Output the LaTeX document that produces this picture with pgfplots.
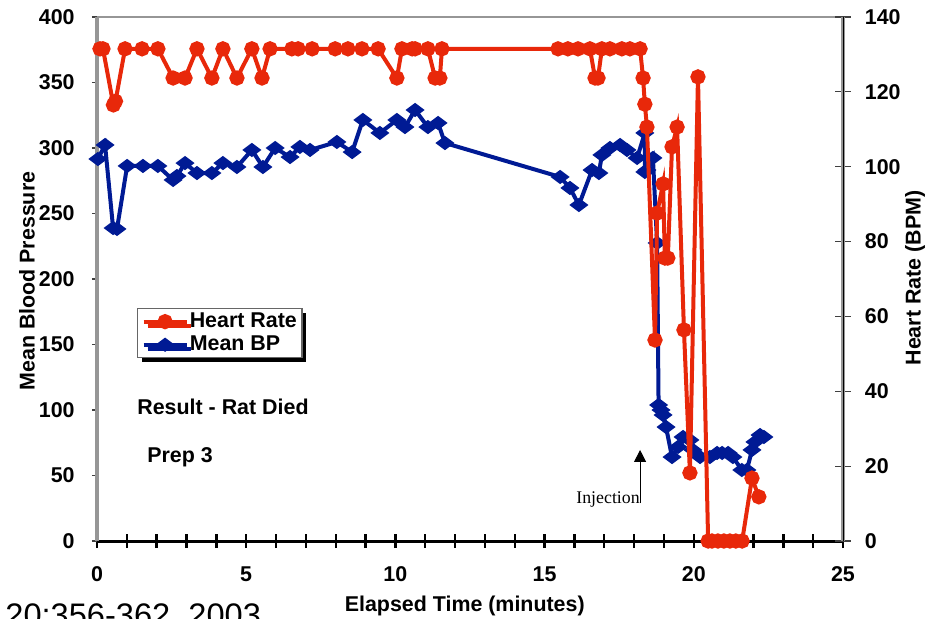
\documentclass[border=0pt]{standalone}
\usepackage{pgfplots}
\pgfplotsset{compat=1.18}
\usepackage{fontspec}
\setmainfont{Liberation Sans}
\newfontfamily\timesfont{Liberation Serif}
\usetikzlibrary{shadows,arrows.meta}

\definecolor{hrred}{RGB}{232,40,10}
\definecolor{bpblue}{RGB}{0,26,148}
\definecolor{framegray}{RGB}{150,150,150}

\pgfplotsset{
  base/.style={
    width=373pt, height=262pt, scale only axis,
    xmin=0, xmax=25, clip=false,
    /pgf/number format/assume math mode=true,
    tick label style={font=\fontsize{10.7}{12}\selectfont\bfseries},
    label style={font=\fontsize{10.7}{12}\selectfont\bfseries},
  },
}

\begin{document}
\begin{tikzpicture}
% x axis only
\begin{axis}[base, ymin=0, ymax=400,
  axis x line*=bottom, axis y line=none,
  xtick={0,5,...,25}, minor x tick num=4,
  tick align=center, major tick length=7pt, minor tick length=7pt,
  x axis line style={black, line width=1.5pt},
  every tick/.style={black, line width=1.2pt},
  xticklabel style={inner sep=0pt, anchor=north, yshift=-9pt},
  xlabel={Elapsed Time (minutes)},
  xlabel style={at={(axis description cs:0.493,-0.124)}, anchor=center},
]
\end{axis}

% left axis: mean BP
\begin{axis}[base, ymin=0, ymax=400,
  axis x line=none, axis y line*=left,
  ytick={0,50,...,400},
  tick align=outside, major tick length=2.5pt,
  y axis line style={framegray, line width=2pt},
  every tick/.style={black!75, line width=0.6pt},
  yticklabel style={inner sep=0pt, anchor=east, xshift=-8.5pt},
  ylabel={Mean Blood Pressure},
  ylabel style={at={(axis description cs:-0.094,0.496)}, anchor=center},
]
\draw[framegray, line width=1.3pt] (rel axis cs:0,1) -- (rel axis cs:1,1);
\addplot[bpblue, line width=2pt, mark=diamond*, mark size=3.1pt,
  mark options={solid, rotate=90}] coordinates {
(0.03,291.6)(0.27,302.3)(0.54,238.9)(0.67,238.2)(1.01,286.3)(1.54,286.3)
(2.04,286.3)(2.55,275.6)(2.68,278.6)(2.95,288.5)(3.35,280.9)(3.85,280.9)
(4.22,288.5)(4.69,285.5)(5.19,298.5)(5.56,285.5)(5.97,300.0)(6.47,293.1)
(6.80,300.8)(7.14,298.5)(8.04,304.6)(8.55,296.9)(8.91,321.4)(9.48,311.5)
(10.05,321.4)(10.32,316.0)(10.66,329.0)(11.09,316.0)(11.43,319.1)(11.66,303.8)
(15.52,277.9)(15.85,269.5)(16.15,256.5)(16.59,283.2)(16.82,280.9)(16.92,294.7)
(17.19,300.0)(17.53,302.3)(17.76,298.5)(18.10,292.4)(18.36,311.5)(18.36,281.7)
(18.43,283.2)(18.63,292.4)(18.77,227.5)(18.82,103.8)(18.90,100.0)(18.97,96.2)
(19.07,87.0)(19.27,64.1)(19.47,71.8)(19.64,79.4)(19.87,77.1)(19.97,69.5)
(20.21,64.1)(20.54,64.1)(20.78,67.2)(20.95,67.2)(21.15,67.2)(21.31,64.1)
(21.61,54.2)(21.78,54.2)(21.95,69.5)(22.05,75.6)(22.22,80.9)(22.35,79.4)
};
\node[anchor=west, inner sep=0pt, font=\fontsize{10.7}{12}\selectfont\bfseries]
  at (rel axis cs:0.0536,0.2557) {Result - Rat Died};
\node[anchor=west, inner sep=0pt, font=\fontsize{10.7}{12}\selectfont\bfseries]
  at (rel axis cs:0.067,0.160) {Prep 3};
\draw[line width=0.5pt, -{Triangle[length=6pt,width=6pt]}]
  (axis cs:18.2,29) -- (axis cs:18.2,69.5);
\node[anchor=base east, inner sep=0pt, font=\timesfont\fontsize{8.9}{10}\selectfont]
  at (axis cs:18.2,29) {Injection};
\end{axis}

% right axis: heart rate
\begin{axis}[base, ymin=0, ymax=140,
  axis x line=none, axis y line*=right,
  ytick={0,20,...,140},
  tick align=center, major tick length=7.5pt,
  y axis line style={framegray, line width=2pt},
  every tick/.style={black!75, line width=0.6pt},
  yticklabel style={inner sep=0pt, anchor=west, xshift=7pt},
  ylabel={Heart Rate (BPM)},
  ylabel style={at={(axis description cs:1.0965,0.502)}, anchor=center, rotate=0},
  legend cell align=left,
  legend image code/.code={\draw[mark repeat=2, mark phase=2]
    plot coordinates {(0pt,0pt)(10.75pt,0pt)(21.5pt,0pt)};},
  legend style={at={(axis description cs:0.0536,0.4447)}, anchor=north west,
    font=\fontsize{10.7}{12}\selectfont\bfseries,
    draw=black!60, line width=0.6pt, fill=white,
    drop shadow={shadow xshift=2pt, shadow yshift=-2pt, fill=black, opacity=1},
    inner xsep=2pt, inner ysep=1.5pt, row sep=1.5pt,
    nodes={inner sep=0.6pt}},
]
\draw[black, line width=0.5pt] (rel axis cs:1,0) -- (rel axis cs:1,1);
\addplot[hrred, line width=2pt, mark=*, mark size=2.8pt,
  mark options={solid}] coordinates {
(0.10,131.5)(0.20,131.5)(0.55,116.5)(0.62,117.5)(0.94,131.5)(1.51,131.5)
(2.04,131.5)(2.55,123.7)(2.95,123.7)(3.35,131.5)(3.85,123.7)(4.22,131.5)
(4.69,123.7)(5.19,131.5)(5.53,123.7)(5.80,131.5)(6.53,131.5)(6.74,131.5)
(7.21,131.5)(7.98,131.5)(8.41,131.5)(8.88,131.5)(9.42,131.5)(10.05,123.7)
(10.22,131.5)(10.56,131.5)(10.66,131.5)(11.09,131.5)(11.33,123.7)(11.49,123.7)
(11.56,131.5)(15.45,131.5)(15.78,131.5)(16.12,131.5)(16.52,131.5)(16.69,123.7)
(16.79,123.7)(16.92,131.5)(17.19,131.5)(17.59,131.5)(17.86,131.5)(18.20,131.5)
(18.30,123.7)(18.36,116.7)(18.43,110.6)(18.70,53.7)(18.77,87.6)(18.97,95.4)
(19.03,75.6)(19.13,75.6)(19.27,105.3)(19.44,110.6)(19.67,56.4)(19.87,18.2)
(20.14,124.0)(20.48,0)(20.61,0)(20.81,0)(21.01,0)(21.21,0)(21.41,0)(21.62,0)
(21.95,16.8)(22.18,11.8)
};
\addlegendentry{Heart Rate}
\addlegendimage{bpblue, line width=2pt, mark=diamond*, mark size=3.1pt,
  mark options={solid, rotate=90}}
\addlegendentry{Mean BP}
\end{axis}

% citation line, cut by the lower edge as in the original
\node[anchor=base west, inner sep=0pt, font=\fontsize{16.3}{18}\selectfont]
  at (-46pt,-42.5pt) {20:356-362, 2003};
\pgfresetboundingbox
\useasboundingbox (-48.5pt,-38.5pt) rectangle (420.5pt,270.5pt);
\end{tikzpicture}
\end{document}
